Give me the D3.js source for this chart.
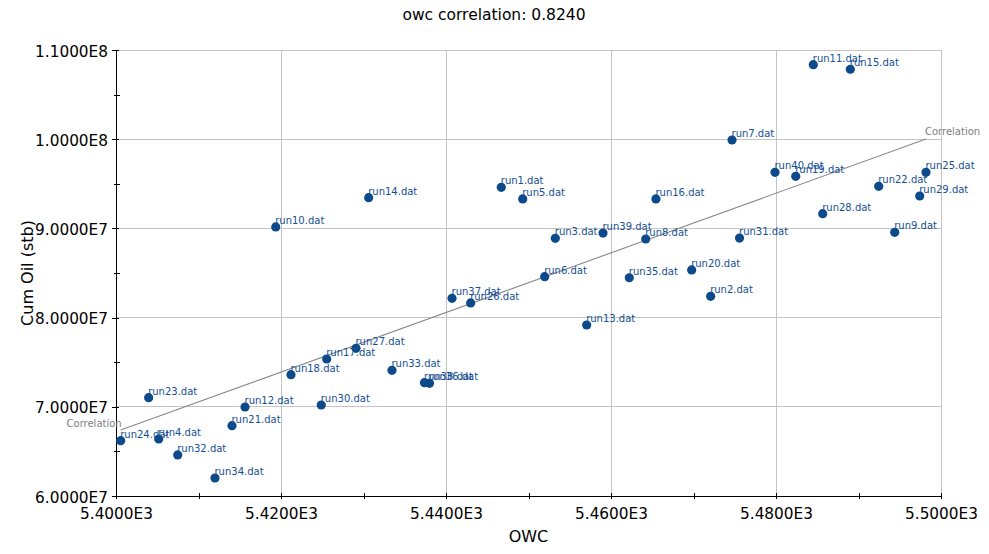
<!DOCTYPE html>
<html>
<head>
<meta charset="utf-8">
<script src="https://cdn.jsdelivr.net/npm/d3@7"></script>
<style>
  html, body { margin: 0; padding: 0; background: #fff; }
  svg { display: block; }
</style>
</head>
<body>
<svg id="chart" width="989" height="554"></svg>
<script>
const chartTitle = "owc correlation: 0.8240";
const xTitle = "OWC";
const yTitle = "Cum Oil (stb)";

const runNames = ["run1.dat","run2.dat","run3.dat","run4.dat","run5.dat","run6.dat","run7.dat","run8.dat","run9.dat","run10.dat",
  "run11.dat","run12.dat","run13.dat","run14.dat","run15.dat","run16.dat","run17.dat","run18.dat","run19.dat","run20.dat",
  "run21.dat","run22.dat","run23.dat","run24.dat","run25.dat","run26.dat","run27.dat","run28.dat","run29.dat","run30.dat",
  "run31.dat","run32.dat","run33.dat","run34.dat","run35.dat","run36.dat","run37.dat","run38.dat","run39.dat","run40.dat"];
const owcValues = [5446.70,5472.08,5453.25,5405.18,5449.30,5451.96,5474.67,5464.21,5494.39,5419.36,
  5484.52,5415.64,5457.05,5430.63,5489.01,5465.45,5425.54,5421.21,5482.39,5469.78,
  5414.06,5492.45,5403.96,5400.57,5498.18,5442.99,5429.09,5485.66,5497.42,5424.88,
  5475.58,5407.48,5433.45,5412.00,5462.22,5438.00,5440.73,5437.39,5459.03,5479.88];
const cumOilValues = [94.61e6,82.39e6,88.89e6,66.39e6,93.30e6,84.59e6,99.91e6,88.81e6,89.56e6,90.16e6,
  108.35e6,69.98e6,79.17e6,93.44e6,107.84e6,93.30e6,75.36e6,73.60e6,95.84e6,85.34e6,
  67.88e6,94.72e6,71.02e6,66.20e6,96.29e6,81.64e6,76.56e6,91.65e6,93.63e6,70.20e6,
  88.92e6,64.60e6,74.09e6,62.02e6,84.47e6,72.63e6,82.16e6,72.70e6,89.48e6,96.29e6];

const corrX = [5400.57, 5498.18];
const corrY = [67.40e6, 100.02e6];
const corrLabel = "Correlation";

const xTicks = [5400, 5420, 5440, 5460, 5480, 5500];
const xMinorTicks = [5410, 5430, 5450, 5470, 5490];
const yTicks = [60e6, 70e6, 80e6, 90e6, 100e6, 110e6];
const yMinorTicks = [65e6, 75e6, 85e6, 95e6, 105e6];

const fmt = v => v.toExponential(4).toUpperCase().replace("E+", "E");

const svg = d3.select("#chart");
const L = 116, R = 941, T = 50, B = 496;
const x = d3.scaleLinear().domain([5400, 5500]).range([L, R]);
const y = d3.scaleLinear().domain([60e6, 110e6]).range([B, T]);

const font = "'DejaVu Sans', Verdana, sans-serif";

// title
svg.append("text").attr("x", 494).attr("y", 20).attr("text-anchor", "middle")
  .style("font-family", font).style("font-size", "15.5px").attr("fill", "#000").text(chartTitle);

// grid
const g = svg.append("g");
g.selectAll(".gx").data(xTicks).enter().append("line")
  .attr("x1", d => x(d)).attr("x2", d => x(d)).attr("y1", T).attr("y2", B)
  .attr("stroke", "#c4c4c4").attr("stroke-width", 1).attr("shape-rendering", "crispEdges");
g.selectAll(".gy").data(yTicks).enter().append("line")
  .attr("x1", L).attr("x2", R).attr("y1", d => y(d)).attr("y2", d => y(d))
  .attr("stroke", "#c4c4c4").attr("stroke-width", 1).attr("shape-rendering", "crispEdges");

// axes
const xAxis = d3.axisBottom(x).tickValues(xTicks).tickFormat(fmt).tickSize(3).tickPadding(9);
const xAxisMinor = d3.axisBottom(x).tickValues(xMinorTicks).tickFormat("").tickSize(3);
const yAxis = d3.axisLeft(y).tickValues(yTicks).tickFormat(fmt).tickSize(4).tickPadding(4);
const yAxisMinor = d3.axisLeft(y).tickValues(yMinorTicks).tickFormat("").tickSize(2);

function styleAxis(sel) {
  sel.select(".domain").attr("stroke", "#000").attr("shape-rendering", "crispEdges");
  sel.selectAll(".tick line").attr("stroke", "#000").attr("shape-rendering", "crispEdges");
  sel.selectAll("text").style("font-family", font).style("font-size", "15.3px").attr("fill", "#000");
}
const gx = svg.append("g").attr("transform", `translate(0,${B})`).call(xAxis).call(styleAxis);
gx.selectAll(".tick line").attr("y1", -3);
const gxm = svg.append("g").attr("transform", `translate(0,${B})`).call(xAxisMinor).call(styleAxis);
gxm.select(".domain").remove();
gxm.selectAll(".tick line").attr("y1", -3);
const gy = svg.append("g").attr("transform", `translate(${L},0)`).call(yAxis).call(styleAxis);
gy.selectAll(".tick line").attr("x1", 3);
gy.selectAll(".tick text").attr("dy", "0.4em");
const gym = svg.append("g").attr("transform", `translate(${L},0)`).call(yAxisMinor).call(styleAxis);
gym.select(".domain").remove();
gym.selectAll(".tick line").attr("x1", 4);

// axis titles
svg.append("text").attr("x", (L + R) / 2).attr("y", 542).attr("text-anchor", "middle")
  .style("font-family", font).style("font-size", "16px").attr("fill", "#000").text(xTitle);
svg.append("text").attr("transform", `translate(33,${(T + B) / 2}) rotate(-90)`).attr("text-anchor", "middle")
  .style("font-family", font).style("font-size", "16px").attr("fill", "#000").text(yTitle);

// correlation line
svg.append("line")
  .attr("x1", x(corrX[0])).attr("y1", y(corrY[0]))
  .attr("x2", x(corrX[1])).attr("y2", y(corrY[1]))
  .attr("stroke", "#8a8a8a").attr("stroke-width", 1.1);
svg.append("text").attr("x", x(corrX[0]) + 1).attr("y", y(corrY[0]) - 3).attr("text-anchor", "end")
  .style("font-family", font).style("font-size", "10px").attr("fill", "#808080").text(corrLabel);
svg.append("text").attr("x", x(corrX[1]) - 1).attr("y", y(corrY[1]) - 4).attr("text-anchor", "start")
  .style("font-family", font).style("font-size", "10px").attr("fill", "#808080").text(corrLabel);

// points
const pts = runNames.map((n, i) => ({ name: n, owc: owcValues[i], oil: cumOilValues[i] }));
const pg = svg.append("g");
pg.selectAll("circle").data(pts).enter().append("circle")
  .attr("cx", d => x(d.owc)).attr("cy", d => y(d.oil)).attr("r", 4.6)
  .attr("fill", "#0c4a8b");
pg.selectAll("text").data(pts).enter().append("text")
  .attr("x", d => x(d.owc) - 0.5).attr("y", d => y(d.oil) - 3)
  .style("font-family", font).style("font-size", "10px").attr("fill", "#154f93")
  .text(d => d.name);
</script>
</body>
</html>
